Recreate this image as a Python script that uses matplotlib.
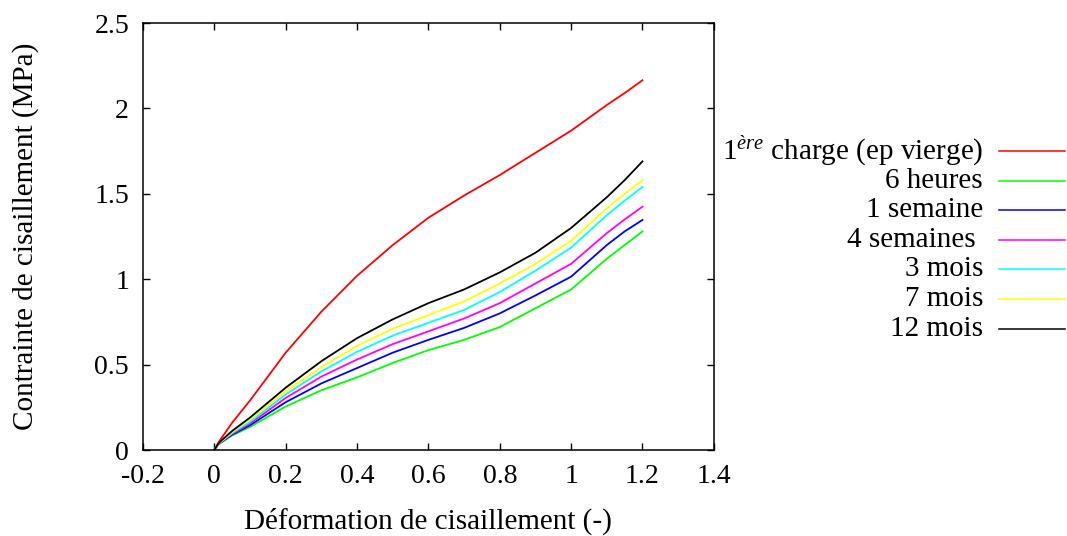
# Shear stress vs shear strain curves for the aged samples

import matplotlib
matplotlib.use("Agg")
import matplotlib.pyplot as plt
from matplotlib.lines import Line2D

plt.rcParams['font.family'] = ['Liberation Serif', 'DejaVu Serif']
plt.rcParams['mathtext.fontset'] = 'custom'
plt.rcParams['mathtext.rm'] = 'Liberation Serif'
plt.rcParams['mathtext.it'] = 'Liberation Serif:italic'

strain = [0, 0.01, 0.02, 0.05, 0.1, 0.2, 0.3, 0.4, 0.5, 0.6, 0.7, 0.8, 0.9, 1.0, 1.1, 1.15, 1.2]

first_load = [0, 0.04, 0.07, 0.16, 0.29, 0.57, 0.81, 1.02, 1.2, 1.36, 1.49, 1.61, 1.74, 1.87, 2.02, 2.09, 2.165]
h6 = [0, 0.03, 0.045, 0.085, 0.135, 0.255, 0.35, 0.425, 0.51, 0.585, 0.645, 0.72, 0.83, 0.94, 1.12, 1.20, 1.28]
w1 = [0, 0.03, 0.047, 0.09, 0.145, 0.28, 0.39, 0.48, 0.57, 0.645, 0.715, 0.80, 0.905, 1.015, 1.20, 1.28, 1.347]
w4 = [0, 0.031, 0.049, 0.095, 0.155, 0.305, 0.43, 0.53, 0.62, 0.695, 0.77, 0.86, 0.975, 1.09, 1.27, 1.35, 1.425]
m3 = [0, 0.032, 0.051, 0.1, 0.165, 0.325, 0.46, 0.575, 0.67, 0.745, 0.82, 0.925, 1.05, 1.185, 1.375, 1.46, 1.54]
m7 = [0, 0.033, 0.053, 0.105, 0.178, 0.345, 0.485, 0.61, 0.71, 0.79, 0.87, 0.975, 1.09, 1.225, 1.415, 1.50, 1.58]
m12 = [0, 0.034, 0.056, 0.112, 0.19, 0.365, 0.52, 0.655, 0.765, 0.86, 0.94, 1.04, 1.155, 1.30, 1.48, 1.58, 1.69]

labels = ['1$^{\\mathit{ère}}$ charge (ep vierge)', '6 heures', '1 semaine', '4 semaines ',
          '3 mois', '7 mois', '12 mois']
series = [first_load, h6, w1, w4, m3, m7, m12]
colors = ['#ff0000', '#00ff00', '#0000ff', '#ff00ff', '#00ffff', '#ffff00', '#000000']

fig = plt.figure(figsize=(10.67, 5.36), dpi=100)
ax = fig.add_axes([0.134, 0.1604, 0.535, 0.7966])

for y, c in zip(series, colors):
    ax.plot(strain, y, color=c, lw=1.3)

ax.set_xlim(-0.2, 1.4)
ax.set_ylim(0, 2.5)
ax.set_xticks([-0.2, 0, 0.2, 0.4, 0.6, 0.8, 1, 1.2, 1.4])
ax.set_xticklabels(['-0.2', '0', '0.2', '0.4', '0.6', '0.8', '1', '1.2', '1.4'])
ax.set_yticks([0, 0.5, 1, 1.5, 2, 2.5])
ax.set_yticklabels(['0', '0.5', '1', '1.5', '2', '2.5'])
ax.tick_params(direction='in', length=5, width=1, top=True, right=True,
               labelsize=20, pad=10)
for s in ax.spines.values():
    s.set_linewidth(1.1)

ax.set_xlabel('Déformation de cisaillement (-)', fontsize=21)
ax.set_ylabel('Contrainte de cisaillement (MPa)', fontsize=21)
ax.xaxis.set_label_coords(0.5, -0.135)
ax.yaxis.set_label_coords(-0.183, 0.5)

# legend drawn by hand: right-aligned text, sample line on the right
W, H = 1067, 536
for i, (lab, c) in enumerate(zip(labels, colors)):
    yp = 1 - (151 + i * 29.6) / H
    fig.text(983 / W, yp, lab, ha='right', va='center', fontsize=21)
    fig.add_artist(Line2D([999 / W, 1065 / W], [yp, yp], color=c, lw=1.1,
                          transform=fig.transFigure))

fig.savefig('out.png', dpi=100)
